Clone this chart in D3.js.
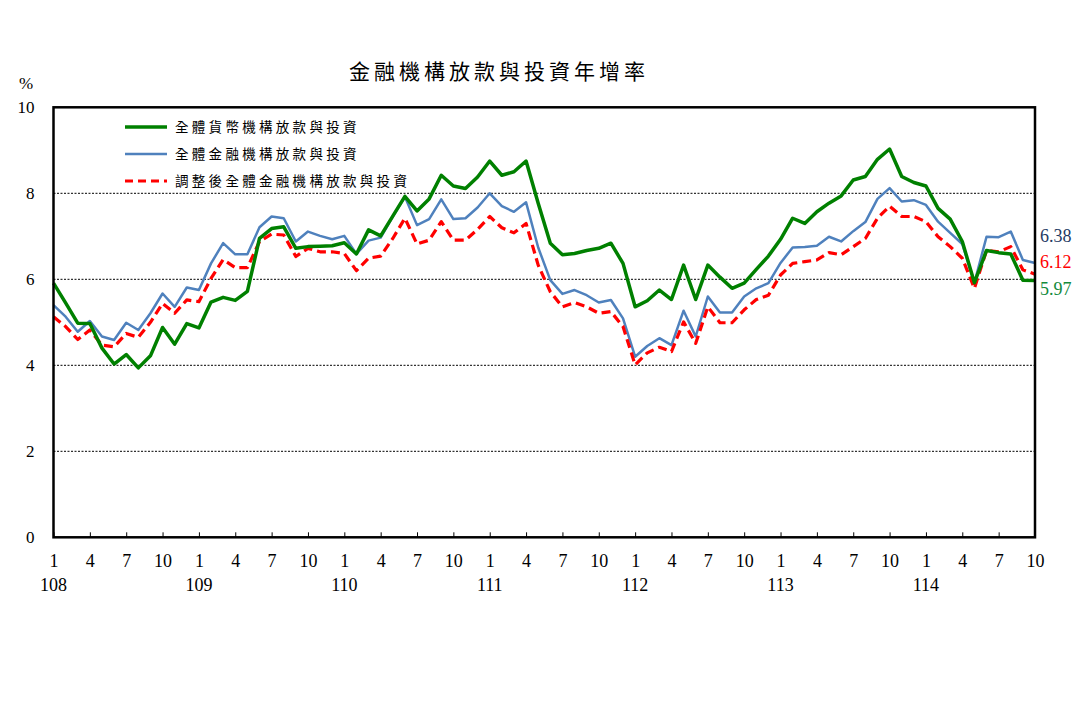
<!DOCTYPE html>
<html><head><meta charset="utf-8">
<script src="https://cdn.jsdelivr.net/npm/d3@7"></script>
<style>
body{margin:0;background:#fff;}
svg{display:block;}
text{font-family:"Liberation Serif","Noto Sans CJK TC",serif;}
</style></head>
<body><svg id="c" width="1088" height="701"></svg>
<script>
// ---- data ----
const years = [108,109,110,111,112,113,114];
const tickMonths = [1,4,7,10];
const lastMonth = 10; // data end at 114/10
const categories = [];
years.forEach(yr => { for (let m=1;m<=12;m++){ if (yr===114 && m>lastMonth) break; categories.push({year:yr, month:m}); } });

const seriesNames = ["全體貨幣機構放款與投資","全體金融機構放款與投資","調整後全體金融機構放款與投資"];
const monetary = [5.91,5.45,4.98,4.97,4.40,4.03,4.25,3.94,4.22,4.88,4.49,4.97,
 4.87,5.47,5.58,5.51,5.72,6.95,7.18,7.22,6.72,6.76,6.77,6.78,
 6.85,6.59,7.15,7.01,7.47,7.93,7.59,7.87,8.42,8.17,8.11,8.38,
 8.75,8.42,8.50,8.75,7.77,6.84,6.57,6.60,6.67,6.72,6.84,6.37,
 5.36,5.50,5.75,5.53,6.33,5.53,6.33,6.05,5.79,5.91,6.23,6.54,
 6.93,7.42,7.30,7.57,7.77,7.94,8.31,8.39,8.79,9.03,8.39,8.25,
 8.17,7.65,7.40,6.88,5.92,6.67,6.62,6.59,5.98,5.97];
const financial = [5.40,5.13,4.78,5.03,4.67,4.59,4.99,4.82,5.21,5.67,5.36,5.81,
 5.75,6.37,6.84,6.58,6.58,7.21,7.46,7.42,6.88,7.11,7.01,6.93,
 7.01,6.59,6.90,6.97,7.46,7.92,7.26,7.40,7.86,7.40,7.42,7.67,
 8.00,7.70,7.57,7.79,6.74,5.98,5.66,5.75,5.63,5.46,5.52,5.09,
 4.20,4.45,4.63,4.47,5.27,4.67,5.60,5.23,5.23,5.60,5.79,5.91,
 6.38,6.74,6.75,6.78,6.99,6.88,7.12,7.33,7.87,8.12,7.81,7.84,
 7.73,7.34,7.08,6.82,5.92,6.99,6.98,7.11,6.45,6.38];
const adjusted = [5.13,4.90,4.60,4.82,4.47,4.43,4.74,4.65,5.00,5.44,5.21,5.52,
 5.48,6.02,6.46,6.27,6.27,6.88,7.05,7.03,6.53,6.72,6.64,6.64,
 6.60,6.20,6.49,6.54,6.95,7.42,6.82,6.91,7.34,6.91,6.91,7.16,
 7.46,7.20,7.08,7.30,6.33,5.71,5.36,5.46,5.36,5.21,5.25,4.90,
 4.01,4.29,4.42,4.32,5.01,4.51,5.36,4.99,4.99,5.29,5.53,5.63,
 6.10,6.37,6.41,6.45,6.62,6.57,6.76,6.95,7.42,7.70,7.46,7.46,
 7.34,6.99,6.76,6.49,5.79,6.67,6.64,6.76,6.22,6.12];
const yTicks = [0,2,4,6,8,10];
const gridTicks = [2,4,6,8];
const endLabels = ["6.38","6.12","5.97"];

// ---- chart ----
const svg = d3.select("#c");
svg.append("rect").attr("width",1088).attr("height",701).attr("fill","#fff");
const L=53.5, R=1035, T=107.3, B=537.3;
const x = d3.scaleLinear().domain([0,categories.length-1]).range([L,R]);
const y = d3.scaleLinear().domain([0,10]).range([B,T]);

// title
svg.append("text").attr("x",499).attr("y",79).attr("text-anchor","middle")
  .attr("font-size",21).attr("letter-spacing","4px").attr("fill","#000")
  .text("金融機構放款與投資年增率");
svg.append("text").attr("x",26).attr("y",89).attr("text-anchor","middle").attr("font-size",17).text("%");

// gridlines
svg.append("g").selectAll("line").data(gridTicks).join("line")
  .attr("x1",L).attr("x2",R).attr("y1",d=>y(d)).attr("y2",d=>y(d))
  .attr("stroke","#000").attr("stroke-width",1).attr("stroke-dasharray","2,1.5");

// y axis labels
const yAxis = d3.axisLeft(y).tickValues(yTicks).tickSize(0).tickPadding(0).tickFormat(d3.format("d"));
const gy = svg.append("g").attr("transform",`translate(${L-19},0)`).call(yAxis);
gy.select(".domain").remove();
gy.selectAll("text").attr("font-size",17).attr("font-family","Liberation Serif").attr("fill","#000");

// x axis
const tickIdx = categories.map((c,i)=>tickMonths.includes(c.month)?i:null).filter(v=>v!==null);
const xAxis = d3.axisBottom(x).tickValues(tickIdx).tickSizeInner(-5).tickSizeOuter(0).tickPadding(17)
  .tickFormat(i=>categories[i].month);
const gx = svg.append("g").attr("transform",`translate(0,${B})`).call(xAxis);
gx.select(".domain").remove();
gx.selectAll(".tick line").attr("stroke","#000").attr("stroke-width",1);
gx.selectAll("text").attr("font-size",18).attr("font-family","Liberation Serif").attr("fill","#000");
// year labels
svg.append("g").selectAll("text").data(years).join("text")
  .attr("x",yr=>x(categories.findIndex(c=>c.year===yr && c.month===1)))
  .attr("y",591).attr("text-anchor","middle").attr("font-size",18).text(d=>d);

// lines
const line = d3.line().x((d,i)=>x(i)).y(d=>y(d));
svg.append("path").datum(financial).attr("d",line).attr("fill","none")
  .attr("stroke","#4F81BD").attr("stroke-width",2.5).attr("stroke-linejoin","round");
svg.append("path").datum(adjusted).attr("d",line).attr("fill","none")
  .attr("stroke","#FF0000").attr("stroke-width",3.2).attr("stroke-dasharray","9,5").attr("stroke-linejoin","round");
svg.append("path").datum(monetary).attr("d",line).attr("fill","none")
  .attr("stroke","#008000").attr("stroke-width",3.5).attr("stroke-linejoin","round");

// frame
svg.append("rect").attr("x",L).attr("y",T).attr("width",R-L).attr("height",B-T)
  .attr("fill","none").attr("stroke","#000").attr("stroke-width",2.5);

// legend
const legend = [
  {name:seriesNames[0], color:"#008000", w:3.5, dash:null, yy:127},
  {name:seriesNames[1], color:"#4F81BD", w:2.5, dash:null, yy:154},
  {name:seriesNames[2], color:"#FF0000", w:3.2, dash:"8,5", yy:181}
];
const lg = svg.append("g");
legend.forEach(d=>{
  lg.append("line").attr("x1",125).attr("x2",167).attr("y1",d.yy).attr("y2",d.yy)
    .attr("stroke",d.color).attr("stroke-width",d.w).attr("stroke-dasharray",d.dash);
  lg.append("text").attr("x",175).attr("y",d.yy+5).attr("font-size",13.5)
    .attr("letter-spacing","3.3px").attr("fill","#000").text(d.name);
});

// end labels
const endColors = ["#1F3B64","#FF0000","#138A3C"];
const endY = [242,268,295];
endLabels.forEach((t,i)=>{
  svg.append("text").attr("x",1040).attr("y",endY[i]).attr("font-size",18)
    .attr("fill",endColors[i]).text(t);
});
</script></body></html>
